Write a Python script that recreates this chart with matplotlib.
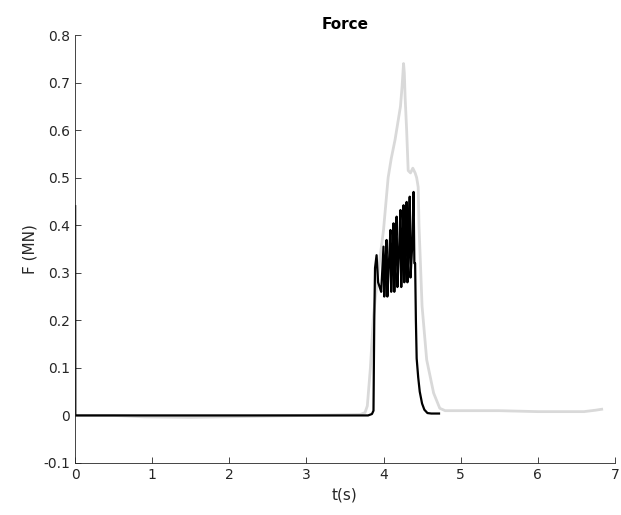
import matplotlib
matplotlib.use("Agg")
import matplotlib.pyplot as plt

# black trace (t in s, F in MN)
t_black = [0.0, 0.002, 0.5, 1.5, 2.5, 3.5, 3.80, 3.85, 3.87, 3.88, 3.89, 3.91, 3.93, 3.95,
           3.97, 4.00, 4.01, 4.02, 4.04, 4.05, 4.07, 4.09, 4.10, 4.11, 4.13, 4.14, 4.15,
           4.17, 4.18, 4.20, 4.22, 4.23, 4.24, 4.26, 4.27, 4.28, 4.30, 4.31, 4.32, 4.34,
           4.35, 4.37, 4.39, 4.40, 4.41, 4.42, 4.43, 4.45, 4.47, 4.50, 4.53, 4.57, 4.62, 4.72]
f_black = [0.44, 0.0, 0.0, 0.0, 0.0, 0.0, 0.0, 0.003, 0.01, 0.20, 0.31, 0.337, 0.28, 0.27,
           0.26, 0.355, 0.25, 0.30, 0.369, 0.25, 0.32, 0.39, 0.26, 0.31, 0.404, 0.26, 0.33,
           0.418, 0.27, 0.34, 0.432, 0.27, 0.33, 0.442, 0.28, 0.35, 0.449, 0.28, 0.34, 0.46,
           0.29, 0.35, 0.47, 0.32, 0.32, 0.20, 0.12, 0.08, 0.05, 0.025, 0.012, 0.005, 0.004, 0.004]

# gray trace
t_gray = [0.0, 0.5, 0.9, 1.5, 2.3, 3.0, 3.70, 3.76, 3.79, 3.83, 3.87, 3.93, 4.00, 4.06,
          4.10, 4.15, 4.19, 4.22, 4.24, 4.26, 4.27, 4.28, 4.30, 4.32, 4.35, 4.38, 4.41,
          4.43, 4.45, 4.46, 4.50, 4.56, 4.65, 4.73, 4.80, 5.5, 6.0, 6.6, 6.75, 6.83]
f_gray = [0.0, 0.0, -0.003, -0.004, -0.002, 0.0, 0.002, 0.006, 0.02, 0.10, 0.21, 0.30, 0.39,
          0.50, 0.54, 0.58, 0.62, 0.65, 0.69, 0.74, 0.72, 0.67, 0.60, 0.515, 0.51, 0.52, 0.51,
          0.50, 0.48, 0.40, 0.23, 0.117, 0.047, 0.015, 0.01, 0.01, 0.008, 0.008, 0.011, 0.013]

x_ticks = [0, 1, 2, 3, 4, 5, 6, 7]
y_ticks = [-0.1, 0, 0.1, 0.2, 0.3, 0.4, 0.5, 0.6, 0.7, 0.8]

fig = plt.figure(figsize=(6.21, 5.15), dpi=100)
ax = fig.add_axes([0.121, 0.101, 0.869, 0.831])

ax.plot(t_gray, f_gray, color="#d9d9d9", lw=2.0)
ax.plot(t_black, f_black, color="black", lw=1.6)

ax.set_xlim(0, 7)
ax.set_ylim(-0.1, 0.8)
ax.set_xticks(x_ticks)
ax.set_yticks(y_ticks)
ax.set_yticklabels(["-0.1", "0", "0.1", "0.2", "0.3", "0.4", "0.5", "0.6", "0.7", "0.8"])
ax.tick_params(direction="in", length=4, width=0.6, colors="#262626", labelsize=10)
for s in ["top", "right"]:
    ax.spines[s].set_visible(False)
for s in ["left", "bottom"]:
    ax.spines[s].set_color("#262626")
    ax.spines[s].set_linewidth(0.6)

ax.set_xlabel("t(s)", fontsize=11, color="#262626")
ax.set_ylabel("F (MN)", fontsize=11, color="#262626")
ax.set_title("Force", fontsize=11, fontweight="bold", color="black", pad=4)

fig.savefig("out.png", dpi=100)
